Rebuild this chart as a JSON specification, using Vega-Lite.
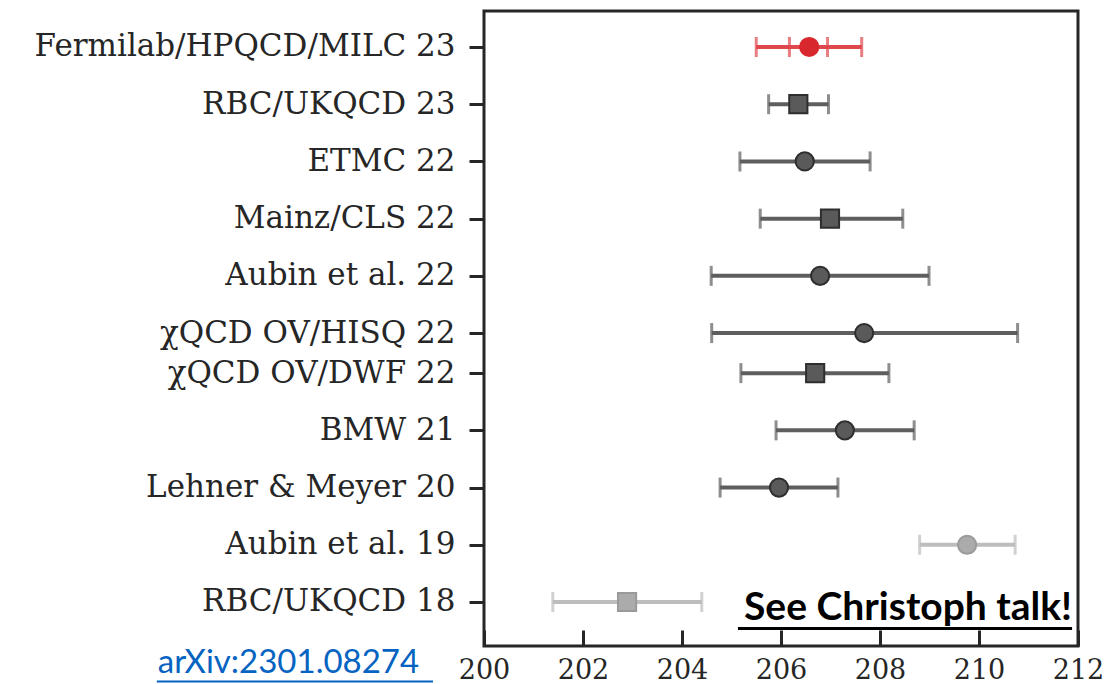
{
  "$schema": "https://vega.github.io/schema/vega-lite/v6.json",
  "width": 594,
  "height": 635,
  "autosize": {"type": "none"},
  "padding": {"left": 484, "top": 11, "right": 26, "bottom": 38},
  "background": "white",
  "config": {
    "view": {"stroke": "#262626", "strokeWidth": 3},
    "font": "DejaVu Serif"
  },
  "datasets": {
    "results": [
      {"name": "Fermilab/HPQCD/MILC 23", "pos": 9.7, "val": 206.57, "lo": 205.5, "hi": 207.63, "lo2": 206.17, "hi2": 206.94, "marker": "circle", "kind": "highlight"},
      {"name": "RBC/UKQCD 23", "pos": 8.7, "val": 206.35, "lo": 205.75, "hi": 206.96, "lo2": null, "hi2": null, "marker": "square", "kind": "standard"},
      {"name": "ETMC 22", "pos": 7.7, "val": 206.48, "lo": 205.17, "hi": 207.8, "lo2": null, "hi2": null, "marker": "circle", "kind": "standard"},
      {"name": "Mainz/CLS 22", "pos": 6.7, "val": 206.99, "lo": 205.58, "hi": 208.46, "lo2": null, "hi2": null, "marker": "square", "kind": "standard"},
      {"name": "Aubin et al. 22", "pos": 5.7, "val": 206.79, "lo": 204.59, "hi": 208.99, "lo2": null, "hi2": null, "marker": "circle", "kind": "standard"},
      {"name": "χQCD OV/HISQ 22", "pos": 4.7, "val": 207.68, "lo": 204.6, "hi": 210.78, "lo2": null, "hi2": null, "marker": "circle", "kind": "standard"},
      {"name": "χQCD OV/DWF 22", "pos": 4.0, "val": 206.69, "lo": 205.19, "hi": 208.18, "lo2": null, "hi2": null, "marker": "square", "kind": "standard"},
      {"name": "BMW 21", "pos": 3.0, "val": 207.29, "lo": 205.9, "hi": 208.69, "lo2": null, "hi2": null, "marker": "circle", "kind": "standard"},
      {"name": "Lehner & Meyer 20", "pos": 2.0, "val": 205.96, "lo": 204.77, "hi": 207.15, "lo2": null, "hi2": null, "marker": "circle", "kind": "standard"},
      {"name": "Aubin et al. 19", "pos": 1.0, "val": 209.76, "lo": 208.8, "hi": 210.73, "lo2": null, "hi2": null, "marker": "circle", "kind": "old"},
      {"name": "RBC/UKQCD 18", "pos": 0.0, "val": 202.89, "lo": 201.39, "hi": 204.4, "lo2": null, "hi2": null, "marker": "square", "kind": "old"}
    ],
    "note": [
      {"label": "See Christoph talk!", "x": 211.88, "y": -0.315, "ux1": 205.13, "ux2": 211.88, "uy": -0.463}
    ],
    "link": [
      {"label": "arXiv:2301.08274", "x": 193.41, "y": -1.241, "ux1": 193.39, "ux2": 198.97, "uy": -1.389}
    ]
  },
  "layer": [
    {
      "data": {"name": "results"},
      "mark": {"type": "rule", "strokeWidth": 4},
      "encoding": {
        "x": {
          "field": "lo", "type": "quantitative",
          "scale": {"domain": [200, 212], "nice": false, "zero": false},
          "axis": {
            "values": [200, 202, 204, 206, 208, 210, 212],
            "domain": false, "grid": false,
            "tickSize": -16, "tickWidth": 3, "tickColor": "#262626",
            "labelFontSize": 27, "labelColor": "#262626", "labelFont": "DejaVu Serif",
            "labelPadding": 27, "labelFlush": false, "labelOverlap": false,
            "title": null
          }
        },
        "x2": {"field": "hi"},
        "y": {
          "field": "pos", "type": "quantitative",
          "scale": {"domain": [-0.769, 10.329], "nice": false, "zero": false},
          "axis": {
            "values": [0, 1, 2, 3, 4, 4.7, 5.7, 6.7, 7.7, 8.7, 9.7],
            "labelExpr": "{'0':'RBC/UKQCD 18','1':'Aubin et al. 19','2':'Lehner & Meyer 20','3':'BMW 21','4':'χQCD OV/DWF 22','4.7':'χQCD OV/HISQ 22','5.7':'Aubin et al. 22','6.7':'Mainz/CLS 22','7.7':'ETMC 22','8.7':'RBC/UKQCD 23','9.7':'Fermilab/HPQCD/MILC 23'}[datum.value]",
            "domain": false, "grid": false,
            "tickSize": 15, "tickWidth": 3, "tickColor": "#262626",
            "labelFontSize": 31, "labelColor": "#262626", "labelFont": "DejaVu Serif",
            "labelPadding": 14, "labelOverlap": false, "labelFlush": false, "labelLimit": 0,
            "title": null
          }
        },
        "color": {
          "field": "kind", "type": "nominal",
          "scale": {"domain": ["highlight", "standard", "old"], "range": ["#e0474c", "#5e5e5e", "#bdbdbd"]},
          "legend": null
        }
      }
    },
    {
      "data": {"name": "results"},
      "mark": {"type": "tick", "orient": "vertical", "size": 20, "thickness": 3},
      "encoding": {
        "x": {"field": "lo", "type": "quantitative"},
        "y": {"field": "pos", "type": "quantitative"},
        "color": {"field": "kind", "type": "nominal", "legend": null}
      }
    },
    {
      "data": {"name": "results"},
      "mark": {"type": "tick", "orient": "vertical", "size": 20, "thickness": 3},
      "encoding": {
        "x": {"field": "hi", "type": "quantitative"},
        "y": {"field": "pos", "type": "quantitative"},
        "color": {"field": "kind", "type": "nominal", "legend": null}
      }
    },
    {
      "data": {"name": "results"},
      "transform": [{"filter": "datum.lo2 != null"}],
      "mark": {"type": "tick", "orient": "vertical", "size": 20, "thickness": 3},
      "encoding": {
        "x": {"field": "lo2", "type": "quantitative"},
        "y": {"field": "pos", "type": "quantitative"},
        "color": {"field": "kind", "type": "nominal", "legend": null}
      }
    },
    {
      "data": {"name": "results"},
      "transform": [{"filter": "datum.hi2 != null"}],
      "mark": {"type": "tick", "orient": "vertical", "size": 20, "thickness": 3},
      "encoding": {
        "x": {"field": "hi2", "type": "quantitative"},
        "y": {"field": "pos", "type": "quantitative"},
        "color": {"field": "kind", "type": "nominal", "legend": null}
      }
    },
    {
      "data": {"name": "results"},
      "mark": {"type": "point", "filled": true, "size": 330, "strokeWidth": 2, "opacity": 1},
      "encoding": {
        "x": {"field": "val", "type": "quantitative"},
        "y": {"field": "pos", "type": "quantitative"},
        "shape": {
          "field": "marker", "type": "nominal",
          "scale": {"domain": ["circle", "square"], "range": ["circle", "square"]},
          "legend": null
        },
        "fill": {
          "field": "kind", "type": "nominal",
          "scale": {"domain": ["highlight", "standard", "old"], "range": ["#d8282e", "#5a5a5a", "#ababab"]},
          "legend": null
        },
        "stroke": {
          "field": "kind", "type": "nominal",
          "scale": {"domain": ["highlight", "standard", "old"], "range": ["#d8282e", "#2e2e2e", "#9a9a9a"]},
          "legend": null
        }
      }
    },
    {
      "data": {"name": "note"},
      "mark": {"type": "text", "align": "right", "baseline": "alphabetic", "font": "Lato", "fontSize": 39, "fontWeight": "bold", "color": "black"},
      "encoding": {
        "x": {"field": "x", "type": "quantitative"},
        "y": {"field": "y", "type": "quantitative"},
        "text": {"field": "label"}
      }
    },
    {
      "data": {"name": "note"},
      "mark": {"type": "rule", "strokeWidth": 3, "color": "black"},
      "encoding": {
        "x": {"field": "ux1", "type": "quantitative"},
        "x2": {"field": "ux2"},
        "y": {"field": "uy", "type": "quantitative"}
      }
    },
    {
      "data": {"name": "link"},
      "mark": {"type": "text", "align": "left", "baseline": "alphabetic", "font": "Lato", "fontSize": 33, "fontWeight": "normal", "color": "#0563c1"},
      "encoding": {
        "x": {"field": "x", "type": "quantitative"},
        "y": {"field": "y", "type": "quantitative"},
        "text": {"field": "label"}
      }
    },
    {
      "data": {"name": "link"},
      "mark": {"type": "rule", "strokeWidth": 2, "color": "#0563c1"},
      "encoding": {
        "x": {"field": "ux1", "type": "quantitative"},
        "x2": {"field": "ux2"},
        "y": {"field": "uy", "type": "quantitative"}
      }
    }
  ]
}
